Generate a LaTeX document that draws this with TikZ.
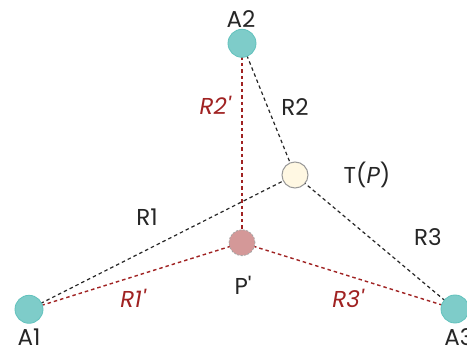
\documentclass[tikz,border=0pt]{standalone}
\usepackage{fontspec}
\setmainfont{Poppins}
\begin{document}
\begin{tikzpicture}[x=1pt,y=1pt,
  anchorpt/.style={circle,draw=anchordraw,fill=anchorfill,line width=0.8pt,minimum size=28pt,inner sep=0pt},
  tnode/.style={circle,draw=gray!80,fill=tfill,line width=1pt,minimum size=26pt,inner sep=0pt},
  pnode/.style={circle,draw=gray!70,dash pattern=on 2pt off 1.5pt,fill=pfill,line width=0.8pt,minimum size=26pt,inner sep=0pt},
  blkline/.style={draw=black!85,line width=1.2pt,dash pattern=on 3.5pt off 3pt},
  redline/.style={draw=darkred,line width=1.4pt,dash pattern=on 3.5pt off 3pt},
  lbl/.style={font=\fontsize{23}{27}\selectfont,text=black!85},
  rlbl/.style={font=\fontsize{23}{27}\selectfont\itshape,text=darkred}]
\definecolor{anchorfill}{HTML}{7ECCC9}
\definecolor{anchordraw}{HTML}{62C2BD}
\definecolor{tfill}{HTML}{FFF8E3}
\definecolor{pfill}{HTML}{D49898}
\definecolor{darkred}{HTML}{A02222}
\useasboundingbox (0,0) rectangle (467,349);
\fill[white] (0,0) rectangle (467,349);
\coordinate (a2c) at (242,305.7);
\coordinate (tc) at (295,174);
\coordinate (pc) at (242,106.3);
\coordinate (a1c) at (29,39.7);
\coordinate (a3c) at (455,40);
\draw[blkline] (a2c) -- (tc);
\draw[blkline] (a1c) -- (tc);
\draw[blkline] (a3c) -- (tc);
\draw[redline] (a2c) -- (pc);
\draw[redline] (a1c) -- (pc);
\draw[redline] (a3c) -- (pc);
\node[anchorpt] (A2) at (a2c) {};
\node[anchorpt] (A1) at (a1c) {};
\node[anchorpt] (A3) at (a3c) {};
\node[tnode] (T) at (tc) {};
\node[pnode] (P) at (pc) {};
\node[lbl] (lA2) at (241,330) {A2};
\node[lbl] (lA1) at (29,12) {A1};
\node[lbl] (lA3) at (459,12) {A3};
\node[lbl] (lR2) at (295,242) {R2};
\node[lbl] (lT) at (367,174) {T(\textit{P})};
\node[lbl] (lR1) at (147,132) {R1};
\node[lbl] (lR3) at (428,112) {R3};
\node[lbl] (lP) at (243,64) {P\textquotesingle};
\node[rlbl] (lR2p) at (215,244) {R2\textquotesingle};
\node[rlbl] (lR1p) at (133,51) {R1\textquotesingle};
\node[rlbl] (lR3p) at (348,51) {R3\textquotesingle};
\end{tikzpicture}
\end{document}
